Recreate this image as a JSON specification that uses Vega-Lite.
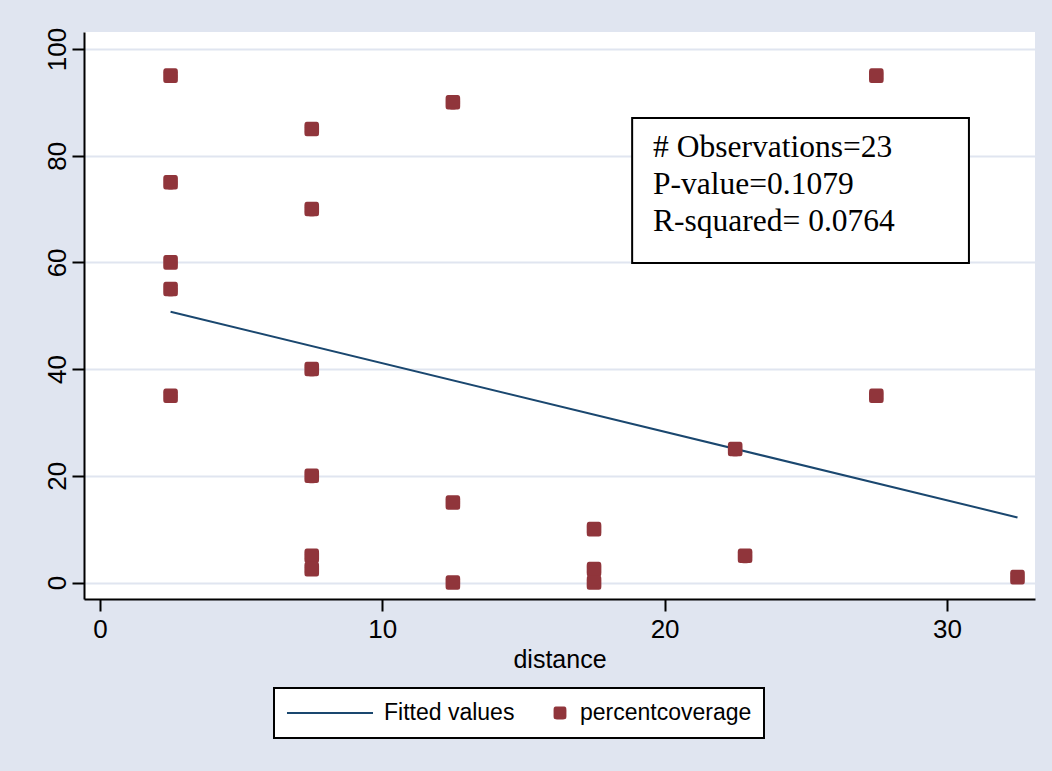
{
  "$schema": "https://vega.github.io/schema/vega-lite/v6.json",
  "width": 951,
  "height": 567,
  "autosize": {"type": "none"},
  "padding": {"left": 84, "top": 32, "right": 17, "bottom": 172},
  "background": "#E0E5F0",
  "view": {"fill": "white", "stroke": null},
  "datasets": {
    "points": [
      {"distance": 2.5, "coverage": 95, "series": "percentcoverage"},
      {"distance": 2.5, "coverage": 75, "series": "percentcoverage"},
      {"distance": 2.5, "coverage": 60, "series": "percentcoverage"},
      {"distance": 2.5, "coverage": 55, "series": "percentcoverage"},
      {"distance": 2.5, "coverage": 35, "series": "percentcoverage"},
      {"distance": 7.5, "coverage": 85, "series": "percentcoverage"},
      {"distance": 7.5, "coverage": 70, "series": "percentcoverage"},
      {"distance": 7.5, "coverage": 40, "series": "percentcoverage"},
      {"distance": 7.5, "coverage": 20, "series": "percentcoverage"},
      {"distance": 7.5, "coverage": 5, "series": "percentcoverage"},
      {"distance": 7.5, "coverage": 2.5, "series": "percentcoverage"},
      {"distance": 12.5, "coverage": 90, "series": "percentcoverage"},
      {"distance": 12.5, "coverage": 15, "series": "percentcoverage"},
      {"distance": 12.5, "coverage": 0, "series": "percentcoverage"},
      {"distance": 17.5, "coverage": 10, "series": "percentcoverage"},
      {"distance": 17.5, "coverage": 2.5, "series": "percentcoverage"},
      {"distance": 17.5, "coverage": 0, "series": "percentcoverage"},
      {"distance": 22.5, "coverage": 25, "series": "percentcoverage"},
      {"distance": 22.85, "coverage": 5, "series": "percentcoverage"},
      {"distance": 27.5, "coverage": 95, "series": "percentcoverage"},
      {"distance": 27.5, "coverage": 35, "series": "percentcoverage"},
      {"distance": 32.5, "coverage": 1, "series": "percentcoverage"}
    ],
    "fit": [
      {"distance": 2.5, "coverage": 50.76, "series": "Fitted values"},
      {"distance": 32.5, "coverage": 12.2, "series": "Fitted values"}
    ],
    "box": [
      {"distance": 18.85, "distance2": 30.78, "coverage": 87.07, "coverage2": 59.89}
    ],
    "stats": [
      {"distance": 19.59, "coverage": 79.76, "label": "# Observations=23"},
      {"distance": 19.59, "coverage": 72.82, "label": "P-value=0.1079"},
      {"distance": 19.59, "coverage": 65.89, "label": "R-squared= 0.0764"}
    ]
  },
  "encoding": {
    "x": {
      "field": "distance",
      "type": "quantitative",
      "title": "distance",
      "scale": {"domain": [-0.567, 33.12], "nice": false, "zero": false},
      "axis": {"values": [0, 10, 20, 30], "grid": false, "labelPadding": 5, "titlePadding": 5, "labelFlush": false}
    },
    "y": {
      "field": "coverage",
      "type": "quantitative",
      "title": null,
      "scale": {"domain": [-3.09, 103.19], "nice": false, "zero": false},
      "axis": {"values": [0, 20, 40, 60, 80, 100], "grid": true, "labelAngle": 270, "labelPadding": 2, "labelFlush": false}
    }
  },
  "layer": [
    {
      "data": {"name": "box"},
      "mark": {"type": "rect", "fill": "white", "stroke": "black", "strokeWidth": 2},
      "encoding": {
        "x2": {"field": "distance2"},
        "y2": {"field": "coverage2"}
      }
    },
    {
      "data": {"name": "stats"},
      "mark": {"type": "text", "font": "Liberation Serif", "fontSize": 31.5, "align": "left", "baseline": "alphabetic", "color": "black"},
      "encoding": {
        "text": {"field": "label", "type": "nominal"}
      }
    },
    {
      "data": {"name": "fit"},
      "mark": {"type": "line", "strokeWidth": 2},
      "encoding": {
        "color": {
          "field": "series",
          "type": "nominal",
          "scale": {"domain": ["Fitted values", "percentcoverage"], "range": ["#1A476F", "#90353B"]},
          "legend": {
            "title": null,
            "orient": "none",
            "legendX": 190,
            "legendY": 656,
            "direction": "horizontal",
            "fillColor": "white",
            "strokeColor": "black",
            "padding": 12,
            "clipHeight": 26,
            "columnPadding": 33,
            "labelOffset": 10,
            "labelLimit": 400,
            "labelFont": "Liberation Sans",
            "labelFontSize": 23,
            "labelColor": "black",
            "encode": {
              "legend": {"update": {"strokeWidth": {"value": 2}}},
              "symbols": {"update": {
                "x": {"signal": "datum.value === 'Fitted values' ? 44 : 12"},
                "shape": {"signal": "datum.value === 'Fitted values' ? 'stroke' : 'M-1,-0.2C-1,-1 -1,-1 -0.2,-1L0.2,-1C1,-1 1,-1 1,-0.2L1,0.2C1,1 1,1 0.2,1L-0.2,1C-1,1 -1,1 -1,0.2Z'"},
                "size": {"signal": "datum.value === 'Fitted values' ? 7400 : 165"},
                "strokeWidth": {"signal": "datum.value === 'Fitted values' ? 2 : 0"},
                "fill": {"signal": "datum.value === 'Fitted values' ? 'transparent' : '#90353B'"},
                "stroke": {"signal": "datum.value === 'Fitted values' ? '#1A476F' : 'transparent'"},
                "opacity": {"value": 1}
              }},
              "labels": {"update": {
                "x": {"signal": "datum.value === 'Fitted values' ? 98 : 32"}
              }}
            }
          }
        }
      }
    },
    {
      "data": {"name": "points"},
      "mark": {"type": "point", "filled": true, "shape": "M-1,-0.2C-1,-1 -1,-1 -0.2,-1L0.2,-1C1,-1 1,-1 1,-0.2L1,0.2C1,1 1,1 0.2,1L-0.2,1C-1,1 -1,1 -1,0.2Z", "size": 215, "opacity": 1},
      "encoding": {
        "color": {
          "field": "series",
          "type": "nominal",
          "scale": {"domain": ["Fitted values", "percentcoverage"], "range": ["#1A476F", "#90353B"]},
          "legend": {
            "title": null,
            "orient": "none",
            "legendX": 190,
            "legendY": 656,
            "direction": "horizontal",
            "fillColor": "white",
            "strokeColor": "black",
            "padding": 12,
            "clipHeight": 26,
            "columnPadding": 33,
            "labelOffset": 10,
            "labelLimit": 400,
            "labelFont": "Liberation Sans",
            "labelFontSize": 23,
            "labelColor": "black",
            "encode": {
              "legend": {"update": {"strokeWidth": {"value": 2}}},
              "symbols": {"update": {
                "x": {"signal": "datum.value === 'Fitted values' ? 44 : 12"},
                "shape": {"signal": "datum.value === 'Fitted values' ? 'stroke' : 'M-1,-0.2C-1,-1 -1,-1 -0.2,-1L0.2,-1C1,-1 1,-1 1,-0.2L1,0.2C1,1 1,1 0.2,1L-0.2,1C-1,1 -1,1 -1,0.2Z'"},
                "size": {"signal": "datum.value === 'Fitted values' ? 7400 : 165"},
                "strokeWidth": {"signal": "datum.value === 'Fitted values' ? 2 : 0"},
                "fill": {"signal": "datum.value === 'Fitted values' ? 'transparent' : '#90353B'"},
                "stroke": {"signal": "datum.value === 'Fitted values' ? '#1A476F' : 'transparent'"},
                "opacity": {"value": 1}
              }},
              "labels": {"update": {
                "x": {"signal": "datum.value === 'Fitted values' ? 98 : 32"}
              }}
            }
          }
        }
      }
    }
  ],
  "config": {
    "axis": {
      "domainColor": "black",
      "domainWidth": 2,
      "tickColor": "black",
      "tickWidth": 2,
      "tickSize": 12,
      "gridColor": "#E0E5F0",
      "gridWidth": 2,
      "labelFont": "Liberation Sans",
      "labelFontSize": 26,
      "labelColor": "black",
      "titleFont": "Liberation Sans",
      "titleFontSize": 25,
      "titleFontWeight": "normal",
      "titleColor": "black"
    }
  }
}
